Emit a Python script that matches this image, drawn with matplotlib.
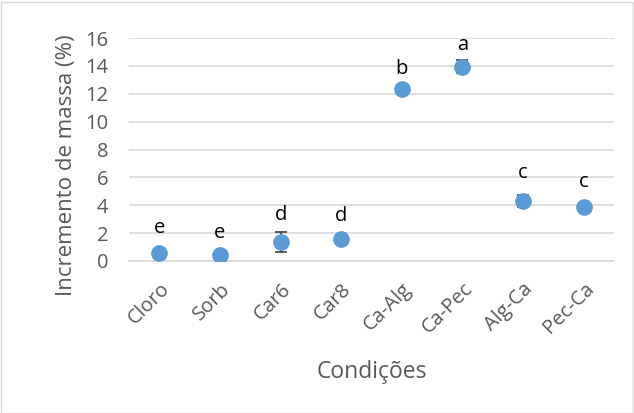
import matplotlib.pyplot as plt
from matplotlib.patches import Rectangle

categories = ['Cloro', 'Sorb', 'Car6', 'Car8', 'Ca-Alg', 'Ca-Pec', 'Alg-Ca', 'Pec-Ca']
values = [0.57, 0.45, 1.36, 1.6, 12.35, 13.95, 4.3, 3.85]
errors = [0.0, 0.0, 0.75, 0.0, 0.0, 0.45, 0.4, 0.0]
letters = ['e', 'e', 'd', 'd', 'b', 'a', 'c', 'c']
letter_pos = [2.4, 2.0, 3.3, 3.2, 13.8, 15.5, 6.3, 5.7]

plt.rcParams['font.family'] = ['Open Sans', 'DejaVu Sans']

fig = plt.figure(figsize=(6.34, 4.13), dpi=100)
ax = fig.add_axes([129 / 634, 1 - 261 / 413, 485 / 634, 223 / 413])

x = list(range(len(categories)))
ax.errorbar(x, values, yerr=errors, fmt='o', color='#5B9BD5', markersize=11,
            ecolor='#404040', elinewidth=1.2, capsize=4, capthick=1.2, zorder=3)

for xi, lab, yp in zip(x, letters, letter_pos):
    ax.text(xi, yp, lab, ha='center', va='center', fontsize=14.5, color='black')

ax.set_xlim(-0.5, len(categories) - 0.5)
ax.set_ylim(0, 16)
ax.set_yticks(range(0, 17, 2))
ax.grid(axis='y', color='#d9d9d9', linewidth=1.2)
ax.set_axisbelow(True)
for s in ['top', 'right', 'left']:
    ax.spines[s].set_visible(False)
ax.spines['bottom'].set_color('#d9d9d9')
ax.spines['bottom'].set_linewidth(1.2)
ax.tick_params(axis='both', length=0, labelsize=14.5, colors='#595959')
ax.tick_params(axis='y', pad=15)
ax.tick_params(axis='x', pad=13)
ax.set_xticks(x)
ax.set_xticklabels(categories, rotation=45, ha='right', rotation_mode='anchor')
ax.set_ylabel('Incremento de massa (%)', fontsize=16, color='#595959')
ax.yaxis.set_label_coords(-0.107, 0.43)
ax.set_xlabel('Condições', fontsize=16.5, color='#595959')
ax.xaxis.set_label_coords(0.5, -0.444)

fig.patches.append(Rectangle((0.5 / 634, 0.5 / 413), 632 / 634, 411 / 413, transform=fig.transFigure,
                             fill=False, edgecolor='#d9d9d9', linewidth=1))

fig.savefig('out.png', dpi=100)
